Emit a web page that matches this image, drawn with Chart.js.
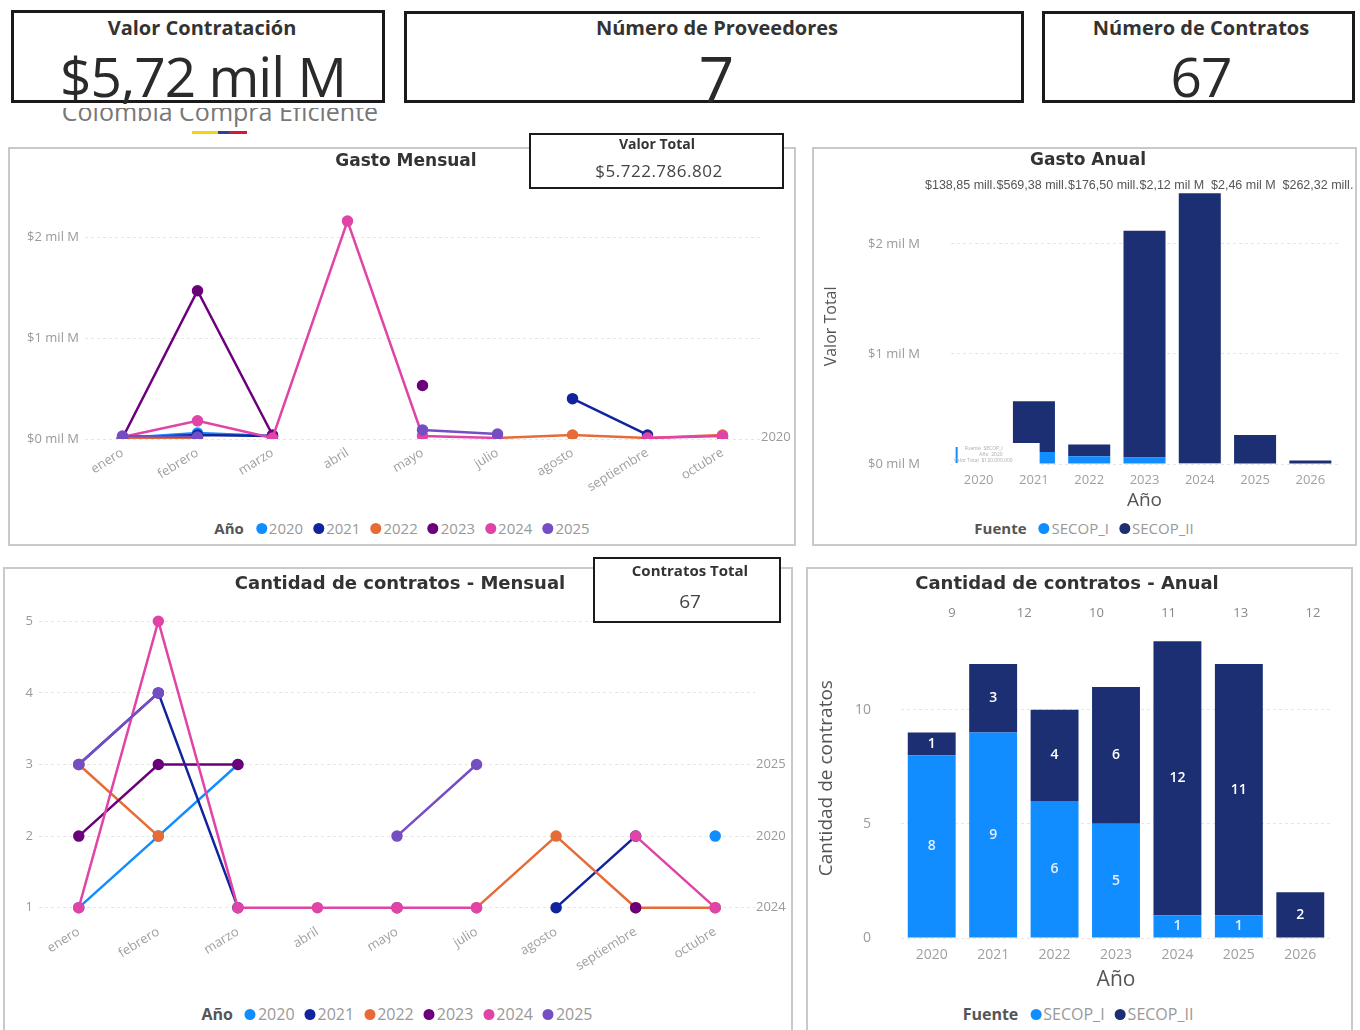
<!DOCTYPE html>
<html lang="es">
<head>
<meta charset="utf-8">
<title>Contratación</title>
<script src="https://cdn.jsdelivr.net/npm/chart.js@4.4.1/dist/chart.umd.min.js"></script>
<style>
body { margin:0; width:1360px; height:1030px; background:#fff; position:relative; overflow:hidden; font-family:"Open Sans", sans-serif; }
.box { position:absolute; box-sizing:border-box; background:#fff; }
.kpi { border:3px solid #1a1a1a; z-index:3; }
.panel { position:absolute; box-sizing:border-box; border:2px solid #c9c9c9; }
.txt { position:absolute; transform:translate(-50%,-50%); white-space:nowrap; line-height:1; z-index:4; }
.kt { font-weight:700; font-size:20px; color:#333; }
.kv { font-size:55px; color:#2a2a2a; letter-spacing:-1px; }
.ttl { font-family:"DejaVu Sans", sans-serif; font-weight:700; font-size:17px; color:#333; }
canvas { position:absolute; z-index:1; }
.leg { position:absolute; transform:translate(-50%,-50%); display:flex; align-items:center; gap:10px; white-space:nowrap; color:#999; z-index:2; }
.leg b { color:#555; font-weight:700; margin-right:2px; }
.leg span { display:flex; align-items:center; }
.leg i { display:inline-block; width:11px; height:11px; border-radius:50%; margin-right:2px; }
.clip { position:absolute; left:40px; top:108px; width:360px; height:20px; overflow:hidden; }
.ghost { position:absolute; left:0; width:360px; top:-9px; text-align:center; font-size:25px; line-height:25px; color:#777; white-space:nowrap; }
</style>
</head>
<body>

<!-- KPI -->
<div class="box kpi" style="left:11px;top:10px;width:374px;height:93px;"></div>
<div class="box kpi" style="left:404px;top:11px;width:620px;height:92px;"></div>
<div class="box kpi" style="left:1042px;top:11px;width:313px;height:92px;"></div>
<div class="txt kt" style="left:202px;top:28px;">Valor Contratación</div>
<div class="txt kv" style="left:203px;top:75px;">$5,72 mil M</div>
<div class="txt kt" style="left:717px;top:28px;">Número de Proveedores</div>
<div class="txt kv" style="left:716px;top:78px;font-size:62px;">7</div>
<div class="txt kt" style="left:1201px;top:28px;">Número de Contratos</div>
<div class="txt kv" style="left:1201px;top:75px;">67</div>

<div class="clip"><div class="ghost">Colombia Compra Eficiente</div></div>
<div style="position:absolute;left:192px;top:131px;width:26px;height:3px;background:#f2d40c;"></div>
<div style="position:absolute;left:218px;top:131px;width:11px;height:3px;background:#34408f;"></div>
<div style="position:absolute;left:229px;top:131px;width:18px;height:3px;background:#cf1b3a;"></div>

<!-- paneles -->
<div class="panel" style="left:8px;top:147px;width:788px;height:399px;"></div>
<div class="panel" style="left:812px;top:147px;width:545px;height:399px;"></div>
<div class="panel" style="left:3px;top:567px;width:790px;height:480px;"></div>
<div class="panel" style="left:806px;top:567px;width:547px;height:480px;"></div>

<div class="txt ttl" style="left:406px;top:160px;">Gasto Mensual</div>
<div class="txt ttl" style="left:1088px;top:159px;">Gasto Anual</div>
<div class="txt ttl" style="left:400px;top:583px;font-size:18px;">Cantidad de contratos - Mensual</div>
<div class="txt ttl" style="left:1067px;top:583px;font-size:18px;">Cantidad de contratos - Anual</div>

<div class="box" style="left:529px;top:133px;width:255px;height:56px;border:2.5px solid #1a1a1a;z-index:3;"></div>
<div class="txt" style="left:657px;top:144px;font-weight:700;font-size:14px;color:#333;">Valor Total</div>
<div class="txt" style="left:659px;top:170px;font-size:17px;color:#444;letter-spacing:0.5px;">$5.722.786.802</div>
<div class="box" style="left:593px;top:557px;width:188px;height:66px;border:2.5px solid #1a1a1a;z-index:3;"></div>
<div class="txt" style="left:690px;top:570px;font-weight:700;font-size:15px;color:#333;">Contratos Total</div>
<div class="txt" style="left:690px;top:601px;font-size:19px;color:#444;">67</div>

<canvas id="gastoMensual" width="785" height="340" style="left:10px;top:175px;"></canvas>
<canvas id="gastoAnual" width="542" height="365" style="left:813px;top:150px;"></canvas>
<canvas id="cantMensual" width="788" height="409" style="left:4px;top:586px;"></canvas>
<canvas id="cantAnual" width="544" height="415" style="left:807px;top:580px;"></canvas>

<div class="leg" id="leg1" style="left:402px;top:528px;font-size:15px;"></div>
<div class="leg" id="leg2" style="left:1084px;top:528px;font-size:15px;"></div>
<div class="leg" id="leg3" style="left:397px;top:1014px;font-size:16px;"></div>
<div class="leg" id="leg4" style="left:1078px;top:1014px;font-size:16px;"></div>

<script>
const meses = ["enero", "febrero", "marzo", "abril", "mayo", "julio", "agosto", "septiembre", "octubre"];
const anios = ["2020", "2021", "2022", "2023", "2024", "2025"];
const coloresAnio = ["#118DFF", "#12239E", "#E66C37", "#6B007B", "#E044A7", "#744EC2"];

// gasto mensual, en miles de millones ($ mil M)
const gasto2020 = [0.01, 0.06, 0.03, null, null, null, null, null, 0.02];
const gasto2021 = [0.01, 0.04, 0.03, null, null, null, 0.40, 0.04, null];
const gasto2022 = [0.01, 0.01, null, null, null, 0.01, 0.04, 0.01, 0.04];
const gasto2023 = [0.01, 1.47, 0.04, null, 0.53, null, null, 0.01, null];
const gasto2024 = [0.02, 0.18, 0.01, 2.16, 0.03, 0.01, null, 0.01, 0.03];
const gasto2025 = [0.03, 0.02, null, null, 0.09, 0.05, null, null, null];

// cantidad de contratos por mes
const cant2020 = [1, 2, 3, null, null, null, null, null, 2];
const cant2021 = [3, 4, 1, null, null, null, 1, 2, null];
const cant2022 = [3, 2, null, null, null, 1, 2, 1, 1];
const cant2023 = [2, 3, 3, null, 1, null, null, 1, null];
const cant2024 = [1, 5, 1, 1, 1, 1, null, 2, 1];
const cant2025 = [3, 4, null, null, 2, 3, null, null, null];

// anual por fuente
const aniosAnual = ["2020", "2021", "2022", "2023", "2024", "2025", "2026"];
const fuentes = ["SECOP_I", "SECOP_II"];
const coloresFuente = ["#118DFF", "#1C2F72"];
const gastoSecopI = [120.00, 110.00, 70.00, 60.00, 8.00, 4.00, 0];          // millones
const gastoSecopII = [18.85, 459.38, 106.50, 2060.00, 2452.00, 258.32, 32.00]; // millones
const contratosSecopI = [8, 9, 6, 5, 1, 1, 0];
const contratosSecopII = [1, 3, 4, 6, 12, 11, 2];

const etiquetasFinales = {
    gasto: ["2020"],
    cantidad: ["2025", "2020", "2024"]
};

Chart.defaults.font.family = "'Open Sans', sans-serif";
Chart.defaults.color = "#999";

/* ---------- helpers ---------- */
function leyenda(id, titulo, nombres, colores) {
    const el = document.getElementById(id);
    el.innerHTML = `<b>${titulo}</b>` + nombres.map((n, i) =>
        `<span><i style="background:${colores[i]}"></i>${n}</span>`).join("");
}

function fmtMiles(v) {
    return v.toFixed(2).replace(".", ",");
}

function serieLinea(label, data, i) {
    return {
        label: label,
        data: data,
        borderColor: coloresAnio[i],
        backgroundColor: coloresAnio[i],
        pointBackgroundColor: coloresAnio[i],
        pointBorderColor: coloresAnio[i],
        borderWidth: 2.5,
        pointRadius: 4.5,
        spanGaps: false,
        tension: 0,
        order: -i
    };
}

const grid = { color: "#e6e6e6", drawTicks: false };
const gridDash = { dash: [3, 3] };

/* ---------- plugins ---------- */
const endLabels = {
    id: "endLabels",
    afterDatasetsDraw(chart, args, o) {
        const { ctx, chartArea } = chart;
        const y = chart.scales.y;
        ctx.save();
        ctx.font = o.font;
        ctx.fillStyle = "#9a9a9a";
        ctx.textAlign = "left";
        ctx.textBaseline = "middle";
        chart.data.datasets.forEach(ds => {
            if (!o.show.includes(ds.label)) return;
            let last = -1;
            ds.data.forEach((v, i) => { if (v !== null) last = i; });
            ctx.fillText(ds.label, chartArea.right + 1, y.getPixelForValue(ds.data[last]));
        });
        ctx.restore();
    }
};

const totalsRow = {
    id: "totalsRow",
    afterDatasetsDraw(chart, args, o) {
        const { ctx, chartArea } = chart;
        const totals = chart.data.labels.map((_, i) =>
            chart.data.datasets.reduce((s, d) => s + d.data[i], 0));
        ctx.save();
        ctx.font = o.font;
        ctx.textBaseline = "middle";
        ctx.textAlign = o.align;
        for (let i = 0; i < o.count; i++) {
            const x = chartArea.left + o.start + i * o.step;
            const y = chartArea.top + o.dy;
            const txt = o.format(totals[i]);
            if (o.background) {
                const w = ctx.measureText(txt).width;
                ctx.fillStyle = "#fff";
                ctx.fillRect(x - 1, y - 7, w + 2, 13);
            }
            ctx.fillStyle = o.color;
            ctx.fillText(txt, x, y);
        }
        ctx.restore();
    }
};

const segLabels = {
    id: "segLabels",
    afterDatasetsDraw(chart, args, o) {
        const { ctx } = chart;
        ctx.save();
        ctx.font = o.font;
        ctx.textAlign = "center";
        ctx.textBaseline = "middle";
        chart.data.datasets.forEach((ds, di) => {
            chart.getDatasetMeta(di).data.forEach((bar, i) => {
                const v = ds.data[i];
                if (!v) return;
                ctx.fillStyle = o.colors[di];
                ctx.fillText(v, bar.x, (bar.y + bar.base) / 2);
            });
        });
        ctx.restore();
    }
};

// cuadro de tooltip que tapa la barra 2020 en la captura
const tooltipBox = {
    id: "tooltipBox",
    afterDatasetsDraw(chart) {
        const { ctx, chartArea } = chart;
        const x0 = chart.scales.x.getPixelForValue(0);
        const left = x0 - 26, top = chartArea.bottom - 21;
        ctx.save();
        ctx.fillStyle = "#fff";
        ctx.fillRect(left, top, 87, 25);
        ctx.fillStyle = "#118DFF";
        ctx.fillRect(left + 3, top + 4, 2, 16);
        ctx.fillStyle = "#aaa";
        ctx.font = "5px 'Open Sans'";
        ctx.textAlign = "right";
        ctx.fillText("Fuente  SECOP_I", left + 50, top + 7);
        ctx.fillText("Año  2020", left + 50, top + 13);
        ctx.fillText("Valor Total  $120.000.000", left + 60, top + 19);
        ctx.restore();
    }
};

/* ---------- Gasto Mensual ---------- */
const seriesGasto = [gasto2020, gasto2021, gasto2022, gasto2023, gasto2024, gasto2025];
new Chart(document.getElementById("gastoMensual"), {
    type: "line",
    data: { labels: meses, datasets: seriesGasto.map((d, i) => serieLinea(anios[i], d, i)) },
    options: {
        responsive: false,
        animation: false,
        layout: { padding: { top: 32, right: 35, left: 0, bottom: 0 } },
        plugins: {
            legend: { display: false },
            tooltip: { enabled: false },
            endLabels: { show: etiquetasFinales.gasto, font: "13px 'Open Sans'" }
        },
        scales: {
            x: {
                offset: true,
                grid: { display: false },
                border: { display: false },
                ticks: { autoSkip: false, minRotation: 32, maxRotation: 32, padding: -2, font: { size: 13 }, color: "#a0a0a0" },
                afterFit: s => { s.height = 76; }
            },
            y: {
                min: 0, max: 2.3,
                grid: grid, border: { display: false, ...gridDash },
                ticks: { stepSize: 1, includeBounds: false, padding: 6, font: { size: 13 }, color: "#9a9a9a",
                         callback: v => "$" + v + " mil M" },
                afterFit: s => { s.width = 75; }
            }
        }
    },
    plugins: [endLabels]
});

/* ---------- Gasto Anual ---------- */
new Chart(document.getElementById("gastoAnual"), {
    type: "bar",
    data: {
        labels: aniosAnual,
        datasets: [
            { label: fuentes[0], data: gastoSecopI.map(v => v / 1000), backgroundColor: coloresFuente[0] },
            { label: fuentes[1], data: gastoSecopII.map(v => v / 1000), backgroundColor: coloresFuente[1] }
        ]
    },
    options: {
        responsive: false,
        animation: false,
        layout: { padding: { top: 0, right: 17, left: 9, bottom: 3 } },
        datasets: { bar: { categoryPercentage: 1, barPercentage: 0.76 } },
        plugins: {
            legend: { display: false },
            tooltip: { enabled: false },
            totalsRow: {
                count: 6, start: -26, step: 71.5, dy: -3, align: "left", background: true,
                font: "12.5px 'Liberation Sans'", color: "#555",
                format: v => v >= 1 ? "$" + fmtMiles(v) + " mil M" : "$" + fmtMiles(v * 1000) + " mill."
            }
        },
        scales: {
            x: {
                stacked: true,
                grid: { display: false },
                border: { display: false },
                ticks: { padding: 0, font: { size: 13 }, color: "#a0a0a0" },
                title: { display: true, text: "Año", color: "#555", font: { size: 19 }, padding: 0 },
                afterFit: s => { s.height = 48; }
            },
            y: {
                stacked: true,
                min: 0, max: 2.5,
                grid: grid, border: { display: false, ...gridDash },
                ticks: { stepSize: 1, includeBounds: false, padding: 31, font: { size: 13 }, color: "#9a9a9a",
                         callback: v => "$" + v + " mil M" },
                title: { display: true, text: "Valor Total", color: "#555", font: { size: 16 }, padding: 0 },
                afterFit: s => { s.width = 129; }
            }
        }
    },
    plugins: [totalsRow, tooltipBox]
});

/* ---------- Cantidad de contratos - Mensual ---------- */
const seriesCant = [cant2020, cant2021, cant2022, cant2023, cant2024, cant2025];
new Chart(document.getElementById("cantMensual"), {
    type: "line",
    data: { labels: meses, datasets: seriesCant.map((d, i) => serieLinea(anios[i], d, i)) },
    options: {
        responsive: false,
        animation: false,
        layout: { padding: { top: 0, right: 37, left: 0, bottom: 0 } },
        elements: { point: { radius: 5 } },
        plugins: {
            legend: { display: false },
            tooltip: { enabled: false },
            endLabels: { show: etiquetasFinales.cantidad, font: "13px 'Open Sans'" }
        },
        scales: {
            x: {
                offset: true,
                grid: { display: false },
                border: { display: false },
                ticks: { autoSkip: false, minRotation: 32, maxRotation: 32, padding: -6, font: { size: 13 }, color: "#a0a0a0" },
                afterFit: s => { s.height = 73; }
            },
            y: {
                min: 0.8, max: 5.3,
                grid: grid, border: { display: false, ...gridDash },
                ticks: { stepSize: 1, includeBounds: false, padding: 6, font: { size: 13 }, color: "#9a9a9a" },
                afterFit: s => { s.width = 35; }
            }
        }
    },
    plugins: [endLabels]
});

/* ---------- Cantidad de contratos - Anual ---------- */
new Chart(document.getElementById("cantAnual"), {
    type: "bar",
    data: {
        labels: aniosAnual,
        datasets: [
            { label: fuentes[0], data: contratosSecopI, backgroundColor: coloresFuente[0] },
            { label: fuentes[1], data: contratosSecopII, backgroundColor: coloresFuente[1] }
        ]
    },
    options: {
        responsive: false,
        animation: false,
        layout: { padding: { top: 0, right: 20, left: 8, bottom: 2 } },
        datasets: { bar: { categoryPercentage: 1, barPercentage: 0.78 } },
        plugins: {
            legend: { display: false },
            tooltip: { enabled: false },
            totalsRow: {
                count: 6, start: 51, step: 72.2, dy: -5, align: "center", background: false,
                font: "13px 'Open Sans'", color: "#888", format: v => String(v)
            },
            segLabels: { font: "600 14px 'Open Sans'", colors: ["#e3efff", "#ffffff"] }
        },
        scales: {
            x: {
                stacked: true,
                grid: { display: false },
                border: { display: false },
                ticks: { padding: 1, font: { size: 14 }, color: "#a0a0a0" },
                title: { display: true, text: "Año", color: "#555", font: { size: 21 }, padding: 0 },
                afterFit: s => { s.height = 55; }
            },
            y: {
                stacked: true,
                min: 0, max: 14,
                grid: grid, border: { display: false, ...gridDash },
                ticks: { stepSize: 5, includeBounds: false, padding: 30, font: { size: 14 }, color: "#9a9a9a" },
                title: { display: true, text: "Cantidad de contratos", color: "#555", font: { size: 19 }, padding: 0 },
                afterFit: s => { s.width = 86; }
            }
        }
    },
    plugins: [totalsRow, segLabels]
});

leyenda("leg1", "Año", anios, coloresAnio);
leyenda("leg2", "Fuente", fuentes, coloresFuente);
leyenda("leg3", "Año", anios, coloresAnio);
leyenda("leg4", "Fuente", fuentes, coloresFuente);
</script>
</body>
</html>
